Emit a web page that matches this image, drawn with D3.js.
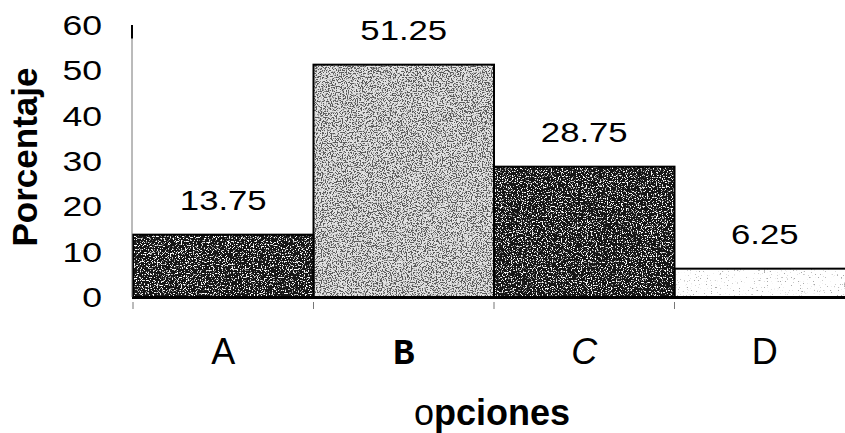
<!DOCTYPE html>
<html><head><meta charset="utf-8">
<script src="https://cdn.jsdelivr.net/npm/d3@7"></script>
<style>
html,body{margin:0;padding:0;background:#fff;overflow:hidden}
svg{display:block}
</style></head>
<body>
<svg id="chart" width="845" height="433"></svg>
<script>
const categories = ["A", "B", "C", "D"];
const values = [13.75, 51.25, 28.75, 6.25];
const valueLabels = ["13.75", "51.25", "28.75", "6.25"];
const yTicks = [0, 10, 20, 30, 40, 50, 60];
const yTitle = "Porcentaje";
const xTitleFirst = "o";
const xTitleRest = "pciones";

const svg = d3.select("#chart");
const x = d3.scaleBand().domain(categories).range([133, 855]).padding(0);
const y = d3.scaleLinear().domain([0, 60]).range([297, 25]);

// textures
const tex = {
  A: {base: "#141414", speck: "#ffffff", k: 9, b: -5.1, f: 0.75, seed: 2},
  B: {base: "#e2e2e2", speck: "#1a1a1a", k: 9, b: -4.3, f: 0.8, seed: 5},
  C: {base: "#181818", speck: "#ffffff", k: 9, b: -5.1, f: 0.8, seed: 8},
  D: {base: "#ffffff", speck: "#666666", k: 9, b: -6.0, f: 0.7, seed: 11}
};
const defs = svg.append("defs");
categories.forEach(c => {
  const t = tex[c];
  const f = defs.append("filter").attr("id", "tex-" + c)
    .attr("x", 0).attr("y", 0).attr("width", "100%").attr("height", "100%")
    .attr("filterUnits", "objectBoundingBox");
  f.append("feTurbulence").attr("type", "fractalNoise")
    .attr("baseFrequency", t.f).attr("numOctaves", 2).attr("seed", t.seed).attr("result", "n");
  const col = d3.rgb(t.speck);
  const r = col.r / 255, g = col.g / 255, bl = col.b / 255;
  f.append("feColorMatrix").attr("in", "n").attr("type", "matrix")
    .attr("values", `0 0 0 0 ${r}  0 0 0 0 ${g}  0 0 0 0 ${bl}  ${t.k} 0 0 0 ${t.b}`)
    .attr("result", "sp");
  f.append("feComposite").attr("in", "sp").attr("in2", "SourceGraphic").attr("operator", "in").attr("result", "sp2");
  const m = f.append("feMerge");
  m.append("feMergeNode").attr("in", "SourceGraphic");
  m.append("feMergeNode").attr("in", "sp2");
});

// bars (fill)
svg.append("g").selectAll("rect").data(categories).join("rect")
  .attr("x", d => x(d))
  .attr("y", (d, i) => y(values[i]))
  .attr("width", x.bandwidth())
  .attr("height", (d, i) => y(0) - y(values[i]))
  .attr("fill", d => tex[d].base)
  .attr("filter", d => `url(#tex-${d})`);
// bars (outline)
svg.append("g").selectAll("rect").data(categories).join("rect")
  .attr("x", d => x(d))
  .attr("y", (d, i) => y(values[i]))
  .attr("width", x.bandwidth())
  .attr("height", (d, i) => y(0) - y(values[i]))
  .attr("fill", "none").attr("stroke", "#000").attr("stroke-width", 2);

// y axis line
svg.append("line").attr("x1", 132).attr("x2", 132).attr("y1", y(60)).attr("y2", y(0))
  .attr("stroke", "#777").attr("stroke-width", 1);
svg.append("line").attr("x1", 132).attr("x2", 132).attr("y1", y(60)).attr("y2", y(57))
  .attr("stroke", "#000").attr("stroke-width", 2);

// x axis
const xAxis = svg.append("g");
xAxis.append("line").attr("x1", 132).attr("x2", 845).attr("y1", y(0) + 1).attr("y2", y(0) + 1)
  .attr("stroke", "#000").attr("stroke-width", 2);
xAxis.selectAll("line.tk").data(categories).join("line").attr("class", "tk")
  .attr("x1", d => x(d)).attr("x2", d => x(d))
  .attr("y1", y(0) + 5).attr("y2", y(0) + 12)
  .attr("stroke", "#777").attr("stroke-width", 1);

// y tick labels
svg.append("g").selectAll("text").data(yTicks).join("text")
  .attr("transform", d => `translate(102,${y(d)}) scale(1.27,1)`)
  .attr("dy", "0.36em")
  .attr("text-anchor", "end")
  .attr("font-family", "Liberation Sans, Arial, sans-serif")
  .attr("font-size", 28)
  .attr("fill", "#000")
  .text(d => d);

// value labels
svg.append("g").selectAll("text").data(categories).join("text")
  .attr("transform", (d, i) => `translate(${x(d) + x.bandwidth() / 2},${y(values[i]) - 25}) scale(1.24,1)`)
  .attr("text-anchor", "middle")
  .attr("font-family", "Liberation Sans, Arial, sans-serif")
  .attr("font-size", 28)
  .attr("fill", "#000")
  .text((d, i) => valueLabels[i]);

// category labels
const catStyle = {
  A: {family: "Liberation Sans, Arial, sans-serif", weight: "normal", style: "normal"},
  B: {family: "'Liberation Mono', 'Courier New', monospace", weight: "bold", style: "normal"},
  C: {family: "Liberation Sans, Arial, sans-serif", weight: "normal", style: "italic"},
  D: {family: "Liberation Sans, Arial, sans-serif", weight: "normal", style: "normal"}
};
svg.append("g").selectAll("text").data(categories).join("text")
  .attr("x", d => x(d) + x.bandwidth() / 2)
  .attr("y", 364)
  .attr("text-anchor", "middle")
  .attr("font-family", d => catStyle[d].family)
  .attr("font-weight", d => catStyle[d].weight)
  .attr("font-style", d => catStyle[d].style)
  .attr("font-size", 36)
  .attr("fill", "#000")
  .text(d => d);

// x title
const xt = svg.append("text")
  .attr("x", 492).attr("y", 425)
  .attr("text-anchor", "middle")
  .attr("font-family", "Liberation Sans, Arial, sans-serif")
  .attr("font-size", 36)
  .attr("fill", "#000");
xt.append("tspan").attr("font-weight", "normal").text(xTitleFirst);
xt.append("tspan").attr("font-weight", "bold").text(xTitleRest);

// y title
svg.append("text")
  .attr("transform", "translate(37,157) rotate(-90)")
  .attr("text-anchor", "middle")
  .attr("font-family", "Liberation Sans, Arial, sans-serif")
  .attr("font-weight", "bold")
  .attr("font-size", 35)
  .attr("fill", "#000")
  .text(yTitle);
</script>
</body></html>
